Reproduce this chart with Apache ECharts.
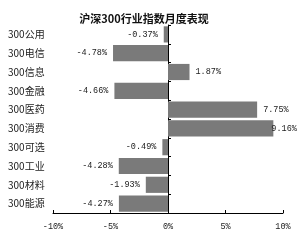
<!DOCTYPE html>
<html><head><meta charset="utf-8">
<script src="https://cdn.jsdelivr.net/npm/echarts@6/dist/echarts.min.js"></script>
<style>html,body{margin:0;padding:0;background:#fff}#c{width:300px;height:244px}</style>
</head><body><div id="c"></div>
<script>
var titleText = '沪深300行业指数月度表现';
var categories = ['300公用','300电信','300信息','300金融','300医药','300消费','300可选','300工业','300材料','300能源'];
var values = [-0.37, -4.78, 1.87, -4.66, 7.75, 9.16, -0.49, -4.28, -1.93, -4.27];
var xTicks = [-10, -5, 0, 5, 10];

var chart = echarts.init(document.getElementById('c'), null, {renderer:'canvas'});
var data = values.map(function(v){
  var lbl = {position: v < 0 ? 'left' : 'right'};
  if (v > 9) lbl.distance = -2;
  return {value: v, label: lbl};
});
chart.setOption({
  animation: false,
  title: {text: titleText, left: 139, top: 8, textAlign: 'center',
    textStyle: {fontFamily: 'Noto Sans CJK SC', fontSize: 11, fontWeight: 'bold', color: '#111'}},
  grid: {left: 53, right: 17, top: 25, bottom: 31, containLabel: false},
  xAxis: {type: 'value', min: xTicks[0], max: xTicks[xTicks.length-1], interval: 5,
    splitLine: {show: false},
    axisLine: {show: true, lineStyle: {color: '#000', width: 1}},
    axisTick: {show: true, inside: true, length: 3, lineStyle: {color: '#000'}},
    axisLabel: {margin: 9, formatter: '{value}%', fontFamily: 'Liberation Mono', fontSize: 8.5, color: '#222'}
  },
  yAxis: [
    {type: 'category', data: categories, inverse: true, position: 'left',
      axisLine: {show: false, onZero: false}, axisTick: {show: false},
      axisLabel: {align: 'left', margin: 45, fontFamily: 'Noto Sans CJK SC', fontSize: 10, color: '#222'}},
    {type: 'category', data: categories, inverse: true, position: 'left',
      axisLine: {show: true, onZero: true, lineStyle: {color: '#000', width: 1}},
      axisTick: {show: true, inside: true, length: 3, lineStyle: {color: '#000'}},
      axisLabel: {show: false}}
  ],
  series: [{
    type: 'bar', yAxisIndex: 0, data: data, barCategoryGap: '14%',
    itemStyle: {color: '#7a7a7a'},
    label: {show: true, distance: 6, formatter: function(p){ return p.value.toFixed(2) + '%'; },
      fontFamily: 'Liberation Mono', fontSize: 8.5, color: '#222'}
  }]
});
</script></body></html>
